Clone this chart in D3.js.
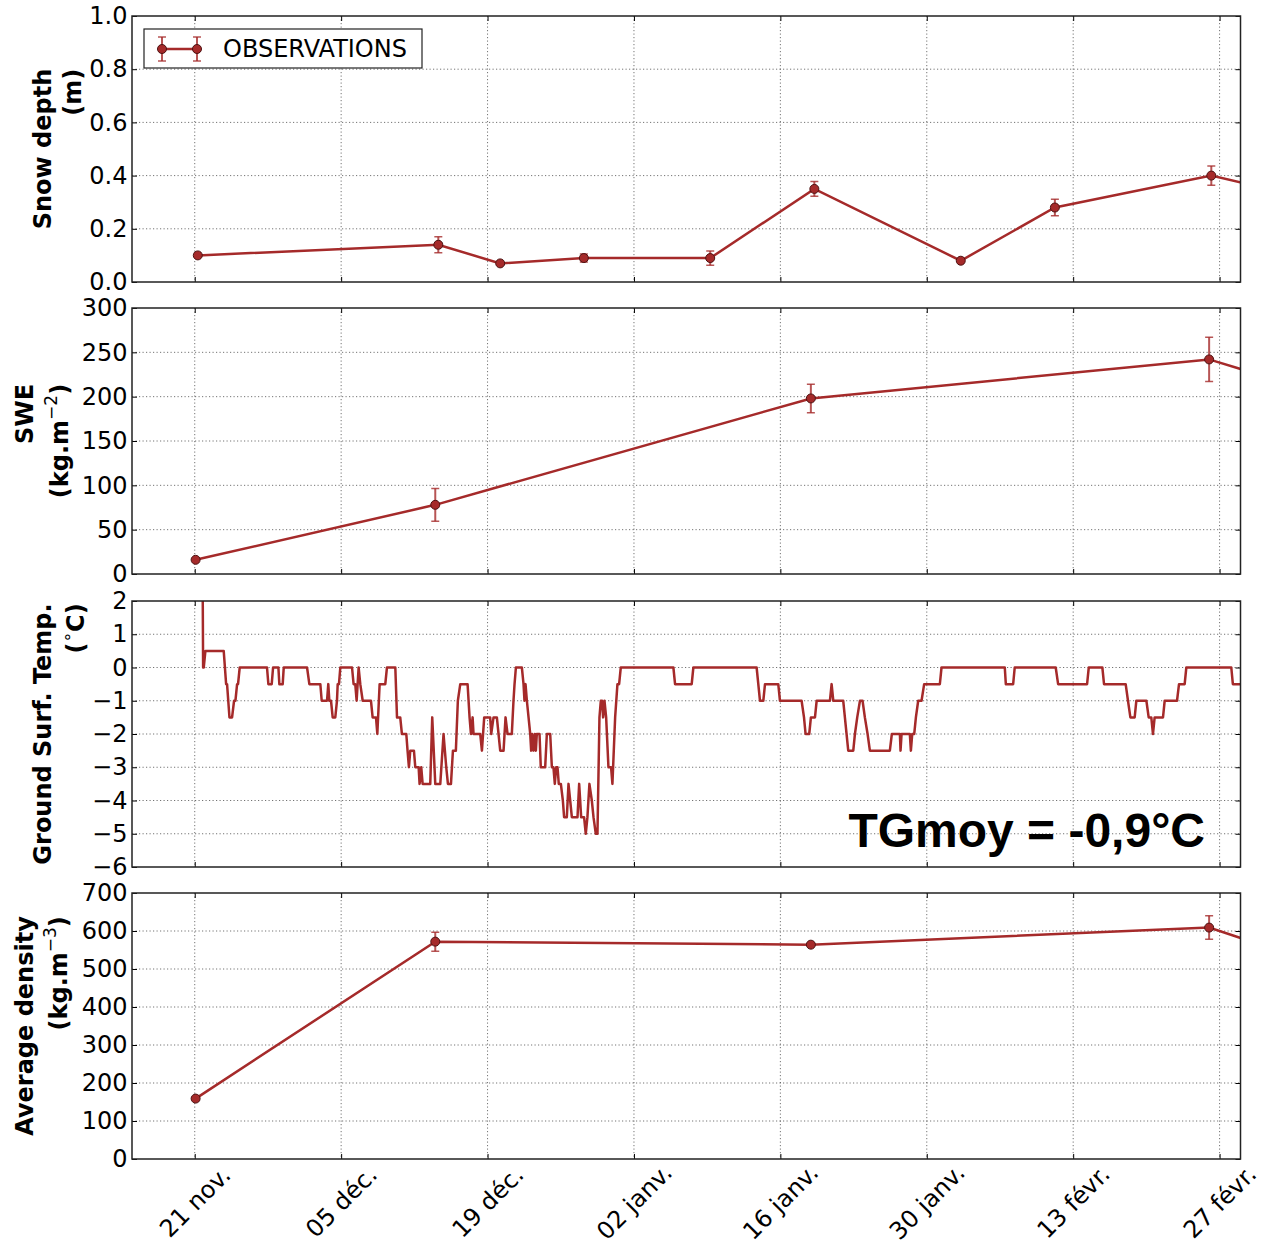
<!DOCTYPE html>
<html>
<head>
<meta charset="utf-8">
<script src="https://cdn.jsdelivr.net/npm/d3@7"></script>
<style>
  body { margin: 0; background: #fff; }
  svg { display: block; }
  text { font-family: "DejaVu Sans", sans-serif; }
</style>
</head>
<body>
<svg id="chart"></svg>
<script>
const width = 1265, height = 1246;
const plotLeft = 132, plotRight = 1240.5;
const panelTops = [16, 308, 601, 893], panelHeight = 266;
const brown = "#a52a2a";

const parseTime = d3.utcParse("%Y-%m-%d %H:%M");

// shared time axis
const xDomain = ["2012-11-15 00:00", "2013-03-01 00:00"];
const xTickDates = ["2012-11-21 00:00", "2012-12-05 00:00", "2012-12-19 00:00", "2013-01-02 00:00",
                    "2013-01-16 00:00", "2013-01-30 00:00", "2013-02-13 00:00", "2013-02-27 00:00"];
const xTickLabels = ["21 nov.", "05 déc.", "19 déc.", "02 janv.", "16 janv.", "30 janv.", "13 févr.", "27 févr."];

// snow depth observations (m)
const depthDates = ["2012-11-21 07:00", "2012-12-14 07:00", "2012-12-20 05:00", "2012-12-28 05:00", "2013-01-09 07:00",
                    "2013-01-19 06:00", "2013-02-02 06:00", "2013-02-11 06:00", "2013-02-26 05:00", "2013-03-05 06:00"];
const depthValues = [0.10, 0.14, 0.07, 0.09, 0.09, 0.35, 0.08, 0.28, 0.40, 0.335];
const depthErrors = [0, 0.03, 0, 0.015, 0.027, 0.028, 0, 0.031, 0.036, 0.03];

// snow water equivalent (kg.m-2)
const sweDates = ["2012-11-21 02:00", "2012-12-14 00:00", "2013-01-18 22:00", "2013-02-26 00:00", "2013-03-05 00:00"];
const sweValues = [16, 78, 198, 242, 217];
const sweErrors = [0, 18.5, 16, 25, 20];

// average density (kg.m-3), same dates as SWE
const densityValues = [159, 572, 564, 609, 545];
const densityErrors = [5, 25, 4, 31, 25];

// ground surface temperature: [days after 21 nov. 00:00, °C]
const tempStart = "2012-11-21 00:00";
const groundTemp = [
  [0.70, 6], [0.80, 0], [0.86, 0], [1.02, 0.5], [2.77, 0.5], [3.00, -0.5], [3.09, -0.5], [3.32, -1.5],
  [3.57, -1.5], [3.76, -1], [3.89, -1], [4.05, -0.5], [4.14, -0.5], [4.30, 0], [6.91, 0], [7.04, -0.5],
  [7.36, -0.5], [7.49, 0], [8.00, 0], [8.09, -0.5], [8.41, -0.5], [8.51, 0], [10.74, 0], [10.96, -0.5],
  [12.01, -0.5], [12.14, -1], [12.65, -1], [12.77, -0.5], [12.87, -1], [13.03, -1], [13.19, -1.5],
  [13.44, -1.5], [13.60, -1], [13.67, -0.5], [13.79, -0.5], [13.92, 0], [15.04, 0], [15.19, -0.5],
  [15.35, -0.5], [15.48, -1], [15.67, 0], [15.83, -0.5], [16.06, -1], [16.85, -1], [17.01, -1.5],
  [17.33, -1.5], [17.46, -2], [17.68, -0.5], [18.22, -0.5], [18.38, 0], [19.18, 0], [19.34, -1.5],
  [19.65, -1.5], [19.81, -2], [20.23, -2], [20.35, -2.5], [20.48, -3], [20.61, -2.5], [20.96, -2.5],
  [21.09, -3], [21.41, -3], [21.50, -3.5], [21.66, -3], [21.79, -3.5], [22.52, -3.5], [22.71, -1.5],
  [23.00, -3.5], [23.48, -3.5], [23.79, -2], [24.05, -3], [24.21, -3.5], [24.50, -3.5], [24.69, -2.5],
  [24.97, -2.5], [25.16, -1], [25.39, -0.5], [26.09, -0.5], [26.28, -1.5], [26.41, -2], [26.57, -1.5],
  [26.66, -2], [27.30, -2], [27.46, -2.5], [27.68, -1.5], [28.25, -1.5], [28.35, -2], [28.57, -1.5],
  [28.89, -1.5], [29.05, -2], [29.21, -2.5], [29.53, -2.5], [29.72, -1.5], [29.91, -2], [30.32, -2],
  [30.48, -1], [30.58, -0.5], [30.71, 0], [31.28, 0], [31.44, -0.5], [31.53, -1], [31.63, -0.5],
  [31.76, -1], [31.92, -1.5], [32.08, -2], [32.17, -2.5], [32.27, -2], [32.39, -2.5], [32.52, -2],
  [32.62, -2.5], [32.71, -2], [32.97, -2], [33.09, -3], [33.51, -3], [33.67, -2], [33.99, -2],
  [34.15, -3], [34.30, -3], [34.43, -3.5], [34.56, -3], [34.69, -3], [34.81, -3.5], [35.01, -3.5],
  [35.20, -4], [35.32, -4.5], [35.58, -4.5], [35.74, -3.5], [35.90, -4], [36.06, -4.5], [36.60, -4.5],
  [36.76, -3.5], [36.95, -4.5], [37.23, -4.5], [37.39, -5], [37.55, -4.5], [37.74, -3.5], [37.97, -4],
  [38.13, -4.5], [38.35, -5], [38.51, -5], [38.70, -1.5], [38.83, -1], [38.95, -1], [39.05, -1.5],
  [39.18, -1], [39.34, -1.5], [39.56, -3], [39.81, -3], [39.94, -3.5], [40.20, -1.5], [40.42, -0.5],
  [40.58, -0.5], [40.74, 0], [45.77, 0], [45.93, -0.5], [47.52, -0.5], [47.68, 0], [53.73, 0],
  [53.89, -0.5], [54.05, -1], [54.37, -1], [54.53, -0.5], [55.80, -0.5], [55.96, -1], [58.03, -1],
  [58.26, -1.5], [58.41, -2], [58.76, -2], [58.92, -1.5], [59.31, -1.5], [59.47, -1], [60.74, -1],
  [60.90, -0.5], [61.06, -1], [62.01, -1], [62.17, -1.5], [62.33, -2], [62.49, -2.5], [62.97, -2.5],
  [63.13, -2], [63.35, -1.5], [63.61, -1], [63.86, -1], [64.08, -1.5], [64.34, -2], [64.56, -2.5],
  [66.47, -2.5], [66.66, -2], [67.43, -2], [67.49, -2.5], [67.59, -2], [68.38, -2], [68.48, -2.5],
  [68.61, -2], [68.80, -2], [68.96, -1.5], [69.18, -1], [69.50, -1], [69.75, -0.5], [71.25, -0.5],
  [71.41, 0], [77.46, 0], [77.56, -0.5], [78.26, -0.5], [78.41, 0], [82.33, 0], [82.56, -0.5],
  [85.33, -0.5], [85.49, 0], [86.79, 0], [86.95, -0.5], [89.02, -0.5], [89.24, -1], [89.47, -1.5],
  [89.88, -1.5], [90.04, -1], [91.00, -1], [91.22, -1.5], [91.47, -1.5], [91.63, -2], [91.79, -1.5],
  [92.59, -1.5], [92.75, -1], [93.93, -1], [94.12, -0.5], [94.66, -0.5], [94.82, 0], [99.12, 0],
  [99.27, -0.5], [101.0, -0.5]
];
const meanTempLabel = "TGmoy = -0,9°C";

// y axes
const depthTicks = [0, 0.2, 0.4, 0.6, 0.8, 1.0];
const sweTicks = [0, 50, 100, 150, 200, 250, 300];
const tempTicks = [-6, -5, -4, -3, -2, -1, 0, 1, 2];
const densityTicks = [0, 100, 200, 300, 400, 500, 600, 700];

const x = d3.scaleUtc()
    .domain(xDomain.map(parseTime))
    .range([plotLeft, plotRight]);
const xTicks = xTickDates.map(parseTime);
const t0 = parseTime(tempStart);

const obs = (dates, values, errors) => dates.map((d, i) => ({ date: parseTime(d), value: values[i], err: errors[i] }));

const panels = [
  { domain: [0, 1], ticks: depthTicks, fmt: d3.format(".1f"), data: obs(depthDates, depthValues, depthErrors),
    label: [["Snow depth"], ["(m)"]], labelX: [43, 72.5] },
  { domain: [0, 300], ticks: sweTicks, fmt: d3.format("d"), data: obs(sweDates, sweValues, sweErrors),
    label: [["SWE"], ["(kg.m", "−2", ")"]], labelX: [24.5, 60] },
  { domain: [-6, 2], ticks: tempTicks, fmt: d3.format("d"),
    series: groundTemp.map(([d, v]) => ({ date: new Date(t0.getTime() + d * 864e5), value: v })),
    label: [["Ground Surf. Temp."], ["(", "∘", "C)"]], labelX: [43, 76] },
  { domain: [0, 700], ticks: densityTicks, fmt: d3.format("d"), data: obs(sweDates, densityValues, densityErrors),
    label: [["Average density"], ["(kg.m", "−3", ")"]], labelX: [25, 59] }
];

const svg = d3.select("#chart")
    .attr("width", width)
    .attr("height", height)
    .attr("viewBox", [0, 0, width, height]);

const defs = svg.append("defs");

panels.forEach((p, i) => {
  const top = panelTops[i], bottom = top + panelHeight;
  const y = d3.scaleLinear().domain(p.domain).range([bottom, top]);
  const g = svg.append("g");

  defs.append("clipPath").attr("id", `clip${i}`)
    .append("rect").attr("x", plotLeft).attr("y", top)
    .attr("width", plotRight - plotLeft).attr("height", panelHeight);

  // dotted grid
  const grid = g.append("g")
      .attr("stroke", "#000").attr("stroke-opacity", 0.55)
      .attr("stroke-width", 1).attr("stroke-dasharray", "1.2,2.3");
  grid.selectAll(".vg").data(xTicks).join("line")
      .attr("x1", d => x(d)).attr("x2", d => x(d)).attr("y1", top).attr("y2", bottom);
  grid.selectAll(".hg").data(p.ticks.slice(1, -1)).join("line")
      .attr("x1", plotLeft).attr("x2", plotRight).attr("y1", d => y(d)).attr("y2", d => y(d));

  // axes, ticks pointing inward
  const styleAxis = sel => {
    sel.select(".domain").remove();
    sel.selectAll(".tick line").attr("stroke", "#000").attr("stroke-width", 1);
    sel.selectAll("text").attr("font-size", 24).attr("fill", "#000");
  };
  g.append("g").attr("transform", `translate(${plotLeft},0)`)
      .call(d3.axisLeft(y).tickValues(p.ticks).tickFormat(p.fmt).tickSize(-5).tickPadding(4.5))
      .call(styleAxis);
  g.append("g").attr("transform", `translate(${plotRight},0)`)
      .call(d3.axisRight(y).tickValues(p.ticks).tickFormat("").tickSize(-5))
      .call(styleAxis);
  g.append("g").attr("transform", `translate(0,${top})`)
      .call(d3.axisTop(x).tickValues(xTicks).tickFormat("").tickSize(-5))
      .call(styleAxis);
  const bx = g.append("g").attr("transform", `translate(0,${bottom})`)
      .call(d3.axisBottom(x).tickValues(xTicks)
        .tickFormat(i === panels.length - 1 ? (d, k) => xTickLabels[k] : "").tickSize(-5))
      .call(styleAxis);
  if (i === panels.length - 1) {
    bx.selectAll(".tick text")
      .attr("x", 0).attr("y", 43).attr("dy", null)
      .attr("text-anchor", "middle").attr("dominant-baseline", "central")
      .attr("transform", "rotate(-45,0,43)");
  }

  // data
  const line = d3.line().x(d => x(d.date)).y(d => y(d.value));
  const plot = g.append("g").attr("clip-path", `url(#clip${i})`);
  if (p.series) {
    plot.append("path").datum(p.series)
      .attr("fill", "none").attr("stroke", brown).attr("stroke-width", 2.5)
      .attr("stroke-linejoin", "round").attr("d", line);
  } else {
    plot.append("path").datum(p.data)
      .attr("fill", "none").attr("stroke", brown).attr("stroke-width", 2.5).attr("d", line);
    const eb = plot.append("g").attr("stroke", brown).attr("stroke-opacity", 0.8)
      .selectAll("g").data(p.data.filter(d => d.err > 0)).join("g");
    eb.append("line").attr("stroke-width", 2)
      .attr("x1", d => x(d.date)).attr("x2", d => x(d.date))
      .attr("y1", d => y(d.value - d.err)).attr("y2", d => y(d.value + d.err));
    [1, -1].forEach(s => eb.append("line").attr("stroke-width", 1.5)
      .attr("x1", d => x(d.date) - 4).attr("x2", d => x(d.date) + 4)
      .attr("y1", d => y(d.value + s * d.err)).attr("y2", d => y(d.value + s * d.err)));
    plot.selectAll("circle").data(p.data).join("circle")
      .attr("cx", d => x(d.date)).attr("cy", d => y(d.value)).attr("r", 4.5)
      .attr("fill", brown).attr("stroke", "#4d1212").attr("stroke-width", 1);
  }

  // frame
  g.append("rect").attr("x", plotLeft).attr("y", top)
    .attr("width", plotRight - plotLeft).attr("height", panelHeight)
    .attr("fill", "none").attr("stroke", "#222").attr("stroke-width", 1.5);

  // y label: two lines, end-aligned, block centred on the panel
  const lab = svg.append("g").attr("font-weight", "bold").attr("font-size", 24);
  const texts = p.label.map((parts, li) => {
    const t = lab.append("text").attr("text-anchor", "end").attr("dominant-baseline", "central");
    parts.forEach((part, k) => {
      const sup = parts.length === 3 && k === 1;
      const ts = t.append("tspan").text(part);
      if (sup) ts.attr("font-size", 17).attr("font-weight", "normal").attr("dy", -9);
      else if (k === 2) ts.attr("dy", 9);
    });
    return { t, cx: p.labelX[li] };
  });
  const maxLen = d3.max(texts, d => d.t.node().getComputedTextLength());
  const endY = (top + bottom) / 2 - maxLen / 2;
  texts.forEach(d => d.t.attr("transform", `translate(${d.cx},${endY}) rotate(-90)`));

  if (i === 2) {
    g.append("text").attr("x", 1205).attr("y", 847).attr("text-anchor", "end")
      .style("font-family", "'Liberation Sans', Arial, sans-serif").attr("font-weight", "bold")
      .attr("font-size", 48).attr("fill", "#000").text(meanTempLabel);
  }

  if (i === 0) {
    const lg = g.append("g").attr("transform", `translate(${plotLeft + 12},${top + 13})`);
    lg.append("rect").attr("width", 278).attr("height", 39)
      .attr("fill", "#fff").attr("stroke", "#222").attr("stroke-width", 1.2);
    lg.append("line").attr("x1", 18).attr("x2", 53).attr("y1", 20).attr("y2", 20)
      .attr("stroke", brown).attr("stroke-width", 2.5);
    [18, 53].forEach(cx => {
      const m = lg.append("g").attr("stroke", brown).attr("stroke-opacity", 0.8);
      m.append("line").attr("x1", cx).attr("x2", cx).attr("y1", 8).attr("y2", 32).attr("stroke-width", 2);
      m.append("line").attr("x1", cx - 4).attr("x2", cx + 4).attr("y1", 8).attr("y2", 8).attr("stroke-width", 1.5);
      m.append("line").attr("x1", cx - 4).attr("x2", cx + 4).attr("y1", 32).attr("y2", 32).attr("stroke-width", 1.5);
      lg.append("circle").attr("cx", cx).attr("cy", 20).attr("r", 4.5)
        .attr("fill", brown).attr("stroke", "#4d1212").attr("stroke-width", 1);
    });
    lg.append("text").attr("x", 79).attr("y", 20).attr("dominant-baseline", "central")
      .attr("font-size", 24).attr("fill", "#000").text("OBSERVATIONS");
  }
});
</script>
</body>
</html>
